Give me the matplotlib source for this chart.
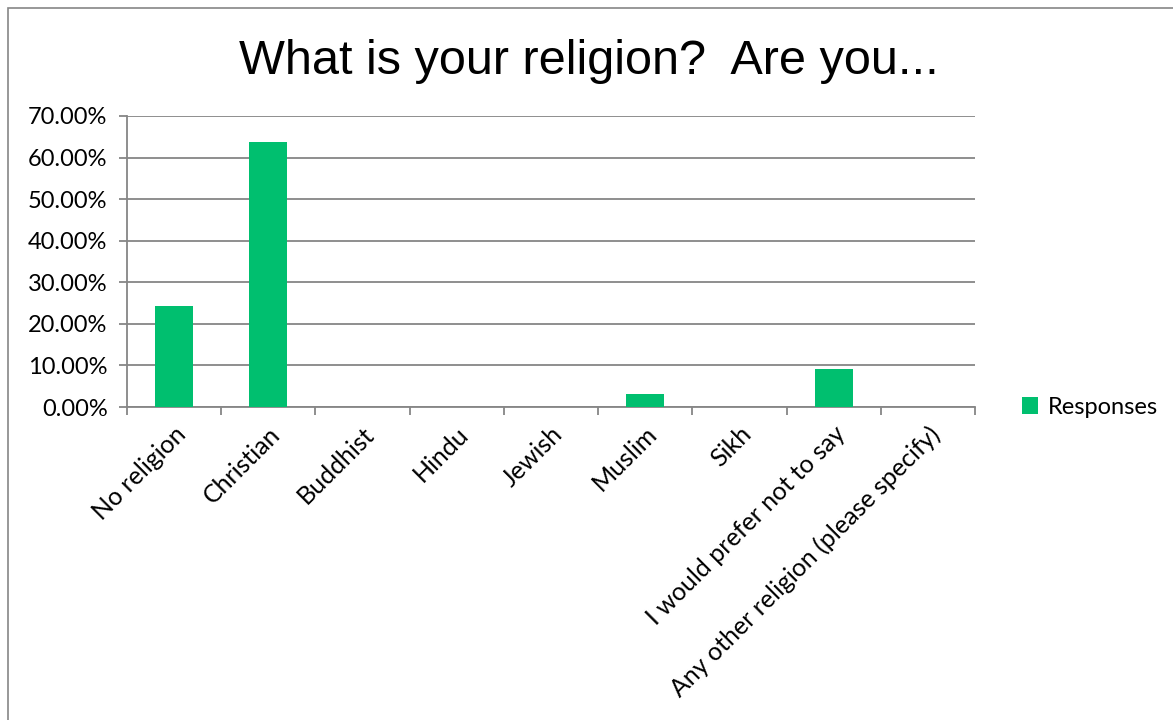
import matplotlib as mpl
mpl.use("Agg")
import matplotlib.pyplot as plt
from matplotlib.patches import Rectangle

categories = ["No religion", "Christian", "Buddhist", "Hindu", "Jewish", "Muslim",
              "Sikh", "I would prefer not to say", "Any other religion (please specify)"]
responses = [24.24, 63.64, 0, 0, 0, 3.03, 0, 9.09, 0]
y_ticks = [0, 10, 20, 30, 40, 50, 60, 70]

green = "#00BF6F"
grey = "#868686"

plt.rcParams["font.family"] = ["Lato", "DejaVu Sans"]

fig = plt.figure(figsize=(11.73, 7.2), dpi=100)
W, H = 1173, 720

# outer chart border
fig.patches.append(Rectangle((8 / W, -0.01), 1.02, 1 - 8 / H + 0.01,
                             transform=fig.transFigure, fill=False,
                             edgecolor=grey, linewidth=1.2))

ax = fig.add_axes([127 / W, 1 - 407 / H, (975 - 127) / W, (407 - 116) / H])

x = list(range(len(categories)))
ax.bar(x, responses, width=0.4, color=green, label="Responses", zorder=3)

ax.set_xlim(-0.5, len(categories) - 0.5)
ax.set_ylim(0, 70)
ax.set_yticks(y_ticks)
ax.set_yticklabels([f"{v:.2f}%" for v in y_ticks], fontsize=17)
ax.yaxis.grid(True, color=grey, linewidth=1.3, zorder=0)
ax.tick_params(axis="y", length=6, color=grey, width=1.3, pad=8)

# category ticks sit on the boundaries between bars
ax.set_xticks([i - 0.5 for i in range(len(categories) + 1)], minor=False)
ax.set_xticklabels([])
ax.tick_params(axis="x", which="major", length=6, color=grey, width=1.3, direction="out")
ax.set_xticks(x, minor=True)
ax.set_xticklabels(categories, minor=True, rotation=45, ha="right",
                   rotation_mode="anchor", fontsize=18)
ax.tick_params(axis="x", which="minor", length=0, pad=11)

for side in ["top", "right"]:
    ax.spines[side].set_visible(False)
ax.spines["left"].set_color(grey)
ax.spines["bottom"].set_color(grey)
ax.spines["left"].set_linewidth(1.3)
ax.spines["bottom"].set_linewidth(1.3)

fig.text(0.5 * (237 + 940) / W, 1 - 61 / H, "What is your religion?  Are you...",
         ha="center", va="center", fontsize=35, family="Liberation Sans")

ax.legend(loc="center left", bbox_to_anchor=(1.03, 0.0), frameon=False,
          fontsize=17, handlelength=0.7, handleheight=0.7, handletextpad=0.4)

fig.savefig("out.png", dpi=100)
